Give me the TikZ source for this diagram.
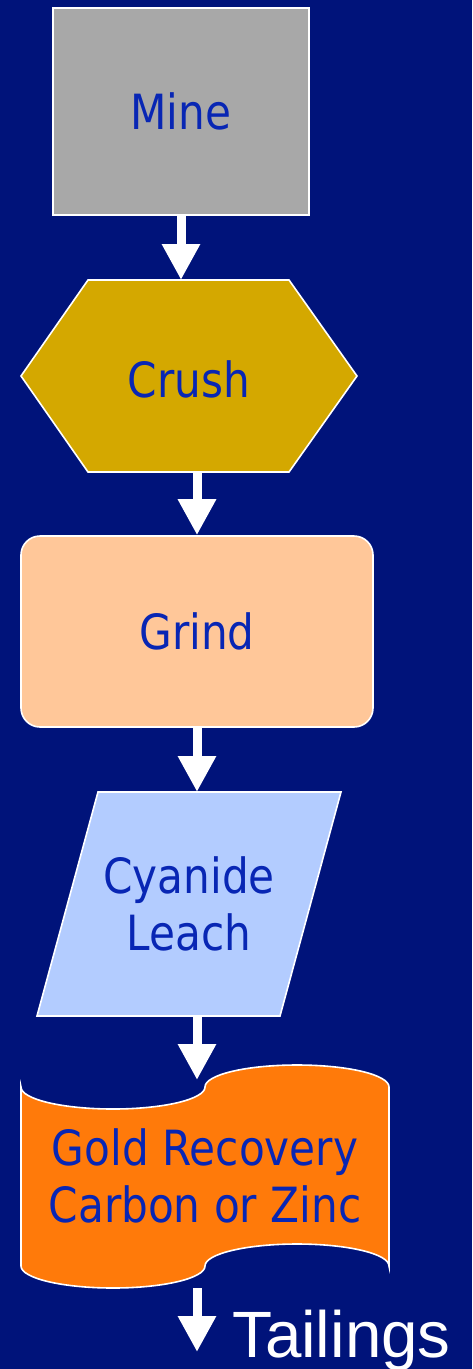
\documentclass[tikz,border=0pt]{standalone}
\usepackage{fontspec}
\newfontfamily\stepfont[FakeStretch=0.87]{DejaVu Sans}
\newfontfamily\tailfont{Liberation Sans}
\usetikzlibrary{arrows.meta}

\definecolor{bgnavy}{RGB}{0,19,122}
\definecolor{textblue}{RGB}{8,38,180}
\definecolor{minegray}{RGB}{168,168,168}
\definecolor{crushgold}{RGB}{212,168,0}
\definecolor{grindpeach}{RGB}{255,199,153}
\definecolor{leachblue}{RGB}{179,204,255}
\definecolor{goldorange}{RGB}{255,122,10}

\begin{document}
\begin{tikzpicture}[x=1pt,y=-1pt,
  shapeborder/.style={draw=white, line width=1.6pt},
  steptext/.style={text=textblue, font={\stepfont\fontsize{48.5}{57}\selectfont},
                   align=center, inner sep=0pt},
  flowarrow/.style={draw=white, line width=9pt,
                    -{Triangle[width=36pt,length=36pt]}}
]
% page and background
\useasboundingbox (0,0) rectangle (472,1369);
\fill[bgnavy] (0,0) rectangle (472,1369);

% Mine
\node[shapeborder, fill=minegray, minimum width=256pt, minimum height=207pt,
      steptext] (mine) at (181,111.5) {Mine};

% Crush (hexagon)
\draw[shapeborder, fill=crushgold]
  (88,280) -- (289,280) -- (357,376) -- (289,472) -- (88,472) -- (21,376) -- cycle;
\coordinate (crushin) at (181,280);
\coordinate (crushout) at (197,472);
\node[steptext] (crush) at (189,379) {Crush};

% Grind (rounded box)
\node[shapeborder, fill=grindpeach, rounded corners=19pt,
      minimum width=352pt, minimum height=191pt, steptext] (grind) at (197,631.5) {Grind};

% Cyanide leach (parallelogram)
\draw[shapeborder, fill=leachblue]
  (98,792) -- (341,792) -- (280,1016) -- (37,1016) -- cycle;
\coordinate (leachin) at (197,792);
\coordinate (leachout) at (197,1016);
\node[steptext] (leach) at (189,904) {Cyanide\\Leach};

% Gold recovery (punched tape)
\draw[shapeborder, fill=goldorange]
  (21,1087)
  .. controls (21,1099.15) and (62.19,1109) .. (113,1109)
  .. controls (163.81,1109) and (205,1099.15) .. (205,1087)
  .. controls (205,1074.85) and (245.81,1065) .. (297,1065)
  .. controls (348.19,1065) and (389,1074.85) .. (389,1087)
  -- (389,1266)
  .. controls (389,1253.85) and (347.81,1244) .. (297,1244)
  .. controls (246.19,1244) and (205,1253.85) .. (205,1266)
  .. controls (205,1278.15) and (163.81,1288) .. (113,1288)
  .. controls (62.19,1288) and (21,1278.15) .. (21,1266)
  -- cycle;
\coordinate (recoveryin) at (197,1080);
\coordinate (recoveryout) at (197,1288);
\node[steptext] (recovery) at (205,1176) {Gold Recovery\\Carbon or Zinc};

% Tailings
\coordinate (tailsend) at (197,1352);
\node[anchor=base west, inner sep=0pt, text=white,
      font={\tailfont\fontsize{65.5}{72}\selectfont}] (tailings) at (232,1357) {Tailings};

% flow arrows
\draw[flowarrow] (mine.south) -- (crushin);
\draw[flowarrow] (crushout) -- (grind.north);
\draw[flowarrow] (grind.south) -- (leachin);
\draw[flowarrow] (leachout) -- (recoveryin);
\draw[flowarrow] (recoveryout) -- (tailsend);
\end{tikzpicture}
\end{document}
